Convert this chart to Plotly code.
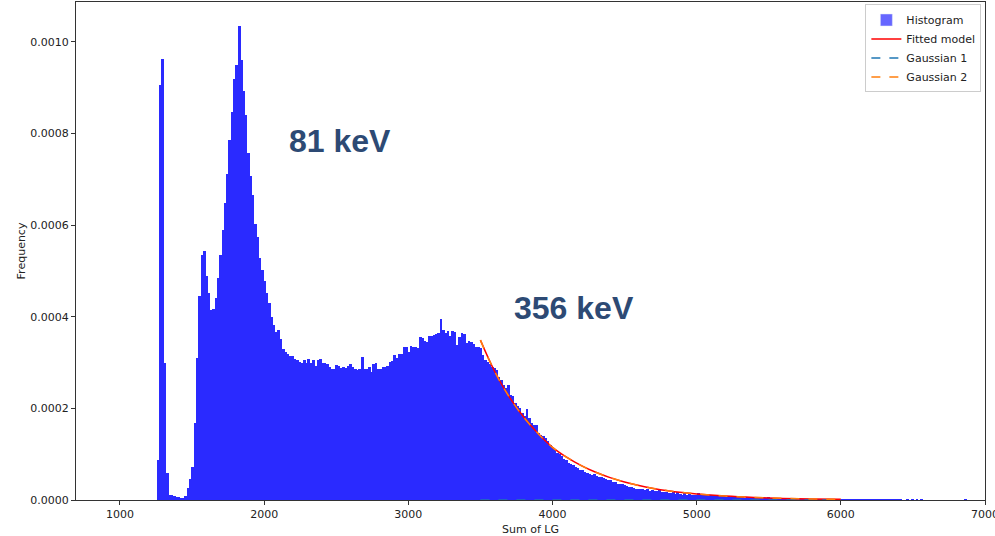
import plotly.graph_objects as go

# ---------------- data ----------------
bin_start = 1255.0
bin_width = 16.1

hist_heights = [
    # 0-12
    0.000087, 0.000906, 0.000962, 0.000300, 0.000058, 0.000012, 0.000010, 0.000008, 0.000007, 0.000006,
    0.000005, 0.000005, 0.000009,
    # 13-39
    0.000026, 0.000046, 0.000073, 0.000168, 0.000310, 0.000445, 0.000535, 0.000544, 0.000488, 0.000452,
    0.000415, 0.000418, 0.000440, 0.000485, 0.000535, 0.000590, 0.000648, 0.000712, 0.000785, 0.000848,
    0.000920, 0.000950, 0.001035, 0.000960, 0.000893, 0.000840, 0.000757,
    # 40-73
    0.000707, 0.000666, 0.000603, 0.000573, 0.000528, 0.000502, 0.000478, 0.000452, 0.000430, 0.000400,
    0.000382, 0.000367, 0.000370, 0.000351, 0.000330, 0.000322, 0.000319, 0.000315, 0.000314, 0.000308,
    0.000306, 0.000302, 0.000300, 0.000305, 0.000298, 0.000307, 0.000300, 0.000305, 0.000293, 0.000305,
    0.000307, 0.000300, 0.000298, 0.000296,
    # 74-111
    0.000290, 0.000286, 0.000285, 0.000295, 0.000293, 0.000288, 0.000290, 0.000288, 0.000293, 0.000296,
    0.000291, 0.000286, 0.000284, 0.000286, 0.000313, 0.000285, 0.000287, 0.000290, 0.000280, 0.000296,
    0.000300, 0.000286, 0.000287, 0.000290, 0.000290, 0.000293, 0.000302, 0.000303, 0.000317, 0.000310,
    0.000319, 0.000319, 0.000333, 0.000333, 0.000322, 0.000337, 0.000335, 0.000335,
    # 112-149
    0.000331, 0.000356, 0.000354, 0.000347, 0.000344, 0.000358, 0.000358, 0.000360, 0.000362, 0.000364,
    0.000395, 0.000371, 0.000364, 0.000368, 0.000358, 0.000369, 0.000367, 0.000338, 0.000356, 0.000364,
    0.000362, 0.000342, 0.000347, 0.000344, 0.000340, 0.000333, 0.000333, 0.000331, 0.000317, 0.000306,
    0.000302, 0.000297, 0.000291, 0.000288, 0.000284, 0.000268, 0.000262, 0.000251,
    # 150-199
    0.000245, 0.000252, 0.000229, 0.000226, 0.000212, 0.000205, 0.000201, 0.000190, 0.000183, 0.000199,
    0.000179, 0.000169, 0.000164, 0.000163, 0.000146, 0.000142, 0.000140, 0.000135, 0.000129, 0.000119,
    0.000113, 0.000109, 0.000103, 0.000100, 0.000096, 0.000089, 0.000087, 0.000080, 0.000079, 0.000077,
    0.000071, 0.000069, 0.000066, 0.000065, 0.000062, 0.000060, 0.000057, 0.000055, 0.000057, 0.000053,
    0.000051, 0.000051, 0.000048, 0.000046, 0.000044, 0.000043, 0.000040, 0.000039, 0.000036, 0.000035,
    # 200-236
    0.000034, 0.000032, 0.000031, 0.000029, 0.000029, 0.000027, 0.000025, 0.000025, 0.000023, 0.000023,
    0.000021, 0.000024, 0.000019, 0.000021, 0.000019, 0.000019, 0.000023, 0.000018, 0.000017, 0.000017,
    0.000015, 0.000015, 0.000019, 0.000014, 0.000017, 0.000013, 0.000012, 0.000018, 0.000012, 0.000015,
    0.000011, 0.000011, 0.000011, 0.000016, 0.000011, 0.000010, 0.000010,
    # 237-270
    0.0000120, 0.0000105, 0.0000110, 0.0000095, 0.0000100, 0.0000088, 0.0000120, 0.0000085, 0.0000078, 0.0000090,
    0.0000072, 0.0000068, 0.0000070, 0.0000062, 0.0000058, 0.0000060, 0.0000052, 0.0000055, 0.0000048, 0.0000046,
    0.0000074, 0.0000041, 0.0000040, 0.0000038, 0.0000042, 0.0000034, 0.0000058, 0.0000032, 0.0000030, 0.0000033,
    0.0000028, 0.0000027, 0.0000025, 0.0000026,
    # 271-294
    0.0000023, 0.0000024, 0.0000020, 0.0000032, 0.0000019, 0.0000018, 0.0000021, 0.0000017, 0.0000016, 0.0000015,
    0.0000017, 0.0000014, 0.0000013, 0.0000014, 0.0000012, 0.0000011, 0.0000013, 0.0000018, 0.0000010, 0.0000011,
    0.0000009, 0.0000010, 0.0000009, 0.0000008,
    # 295-349
    0.0000012, 0.0000010, 0.0000012, 0.0000008, 0.0000007, 0.0000006, 0.0000006, 0.0000006, 0.0000006, 0.0000006,
    0.0000006, 0.0000006, 0.0000006, 0.0000006, 0.0000006, 0.0000006, 0.0000006, 0.0000006, 0.0000006, 0.0000006,
    0.0000006, 0.0000006, 0.0000006, 0.0000006, 0.0000006, 0.0000006, 0.0000000, 0.0000000, 0.0000008, 0.0000000,
    0.0000008, 0.0000000, 0.0000008, 0.0000000, 0.0000008, 0.0000000, 0.0000000, 0.0000000, 0.0000000, 0.0000000,
    0.0000000, 0.0000000, 0.0000000, 0.0000000, 0.0000000, 0.0000000, 0.0000000, 0.0000000, 0.0000000, 0.0000000,
    0.0000000, 0.0000000, 0.0000000, 0.0000006, 0.0000000,
]

fit_x = [3500, 3600, 3700, 3800, 3900, 4000, 4100, 4200, 4300, 4400, 4500, 4600, 4700,
         4800, 4900, 5000, 5200, 5400, 5600, 5800, 6000]
fit_model = [0.000349, 0.000280, 0.000225, 0.000181, 0.000145, 0.000115, 0.0000930, 0.0000750,
             0.0000605, 0.0000488, 0.0000392, 0.0000315, 0.0000253, 0.0000203, 0.0000163,
             0.0000131, 0.0000085, 0.0000055, 0.0000035, 0.0000023, 0.0000015]
gauss1 = [0.0000002, 0.0000002, 0.0000002, 0.0000002, 0.0000002, 0.0000002, 0.0000002,
          0.0000002, 0.0000002, 0.0000002, 0.0000002, 0.0000002, 0.0000002, 0.0000002,
          0.0000002, 0.0000002, 0.0000002, 0.0000002, 0.0000002, 0.0000002, 0.0000002]
gauss2 = [0.000349, 0.000280, 0.000225, 0.000181, 0.000145, 0.000115, 0.0000930, 0.0000750,
          0.0000605, 0.0000488, 0.0000392, 0.0000315, 0.0000253, 0.0000203, 0.0000163,
          0.0000131, 0.0000085, 0.0000055, 0.0000035, 0.0000023, 0.0000015]

x_ticks = [1000, 2000, 3000, 4000, 5000, 6000, 7000]
y_ticks = [0.0, 0.0002, 0.0004, 0.0006, 0.0008, 0.0010]

labels = [("81 keV", 2526, 0.000784), ("356 keV", 4152, 0.000419)]

# ---------------- figure ----------------
bin_centers = [bin_start + bin_width * (i + 0.5) for i in range(len(hist_heights))]

fig = go.Figure()
fig.add_trace(go.Bar(x=bin_centers, y=hist_heights, width=bin_width + 3,
                     marker=dict(color="rgb(42,42,255)", line=dict(width=0)),
                     showlegend=False, name="Histogram"))
fig.add_trace(go.Bar(x=[None], y=[None], marker=dict(color="rgba(0,0,255,0.6)"),
                     name="Histogram", showlegend=True))
fig.add_trace(go.Scatter(x=fit_x, y=fit_model, mode="lines", name="Fitted model",
                         line=dict(color="red", width=1.5, shape="spline")))
fig.add_trace(go.Scatter(x=fit_x, y=gauss1, mode="lines", name="Gaussian 1",
                         line=dict(color="#1f77b4", width=1.5, dash="dash", shape="spline")))
fig.add_trace(go.Scatter(x=fit_x, y=gauss2, mode="lines", name="Gaussian 2",
                         line=dict(color="#ff7f0e", width=1.5, dash="dash", shape="spline")))

for text, lx, ly in labels:
    fig.add_annotation(x=lx, y=ly, xref="x", yref="y", text=text, showarrow=False,
                       font=dict(family="Liberation Sans, Arial", size=32, color="#2d4a74",
                                 weight="bold"))

axis_common = dict(showline=True, linecolor="#333", linewidth=1, mirror=True,
                   ticks="outside", ticklen=4, tickcolor="#333", showgrid=False,
                   zeroline=False, tickfont=dict(size=11, color="#222"), automargin=False)

fig.update_layout(
    width=995, height=536,
    margin=dict(l=76, r=10, t=2, b=36),
    paper_bgcolor="white", plot_bgcolor="white",
    font=dict(family="DejaVu Sans", size=11, color="#222"),
    barmode="overlay", bargap=0,
    xaxis=dict(range=[695, 7000], tickvals=x_ticks, ticktext=[str(v) for v in x_ticks],
               ticklabeloverflow="allow",
               title=dict(text="Sum of LG", font=dict(size=11), standoff=6), **axis_common),
    yaxis=dict(range=[0, 0.001087], tickvals=y_ticks, tickformat=".4f",
               title=dict(text="Frequency", font=dict(size=11), standoff=2), **axis_common),
    legend=dict(x=0.996, y=0.995, xanchor="right", yanchor="top",
                bgcolor="rgba(255,255,255,0.9)", bordercolor="#cccccc", borderwidth=1,
                font=dict(size=11), itemwidth=30, tracegroupgap=0),
)

fig.write_html("out.html")
